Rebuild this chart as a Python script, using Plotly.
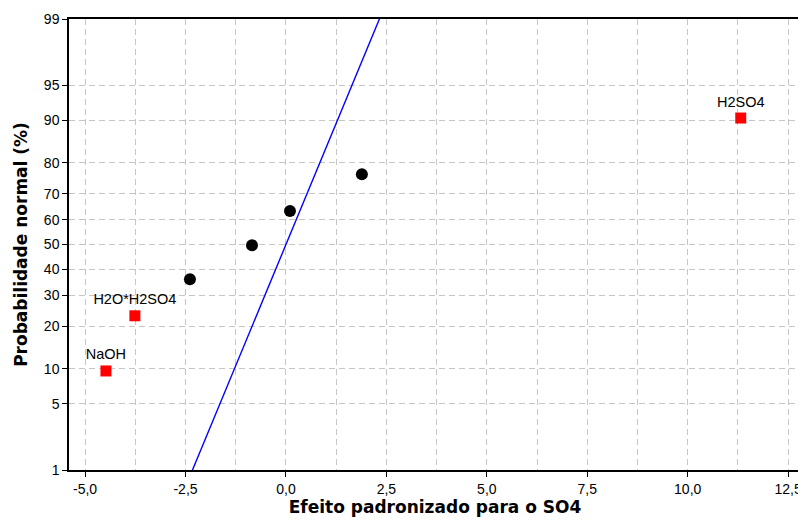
import plotly.graph_objects as go
from statistics import NormalDist

nd = NormalDist()

# --- data ---
effect_x = [-2.39, -0.845, 0.10, 1.89]          # non-significant effects
effect_p = [36.0, 49.7, 63.5, 76.6]              # normal probability (%)

sig_names = ["NaOH", "H2O*H2SO4", "H2SO4"]       # significant effects
sig_x = [-4.48, -3.76, 11.32]
sig_p = [9.6, 23.1, 90.4]

line_x = [-2.5, -2.0, -1.5, -1.0, -0.5, 0.0, 0.5, 1.0, 1.5, 2.0, 2.5]   # reference line (z = x)

y_tick_p = [1, 5, 10, 20, 30, 40, 50, 60, 70, 80, 90, 95, 99]
x_tick_vals = [-5.0, -2.5, 0.0, 2.5, 5.0, 7.5, 10.0, 12.5]
x_tick_text = ["-5,0", "-2,5", "0,0", "2,5", "5,0", "7,5", "10,0", "12,5"]
x_minor_vals = [-5.0 + 1.25 * i for i in range(15)]

z = lambda p: nd.inv_cdf(p / 100.0)

fig = go.Figure()
fig.add_trace(go.Scatter(
    x=line_x, y=line_x, mode="lines",
    line=dict(color="#0000ff", width=1.4), hoverinfo="skip", showlegend=False))
fig.add_trace(go.Scatter(
    x=effect_x, y=[z(p) for p in effect_p], mode="markers",
    marker=dict(symbol="circle", size=12, color="black"), showlegend=False))
fig.add_trace(go.Scatter(
    x=sig_x, y=[z(p) for p in sig_p], mode="markers+text",
    text=sig_names, textposition="top center",
    textfont=dict(family="Liberation Sans, Arial", size=14.5, color="black"),
    marker=dict(symbol="square", size=11, color="#ff0000"), showlegend=False))

grid = dict(gridcolor="#c6c6c6", griddash="6px,4px", gridwidth=1)
title_font = dict(family="DejaVu Sans", size=17, color="black")

fig.update_layout(
    width=798, height=514,
    margin=dict(l=61, r=5, t=11, b=52, autoexpand=False),
    paper_bgcolor="white", plot_bgcolor="white",
    font=dict(family="Liberation Sans, Arial", size=14, color="black"),
    xaxis=dict(
        range=[-5.40, 12.82], tickmode="array", automargin=False,
        tickvals=x_tick_vals, ticktext=x_tick_text,
        ticks="outside", ticklen=5, tickcolor="black",
        showline=True, linecolor="black", linewidth=1.5, mirror=True,
        showgrid=True, zeroline=False, **grid,
        minor=dict(tickvals=x_minor_vals, showgrid=True, ticklen=0, **grid),
        title=dict(text="<b>Efeito padronizado para o SO4</b>", font=title_font, standoff=6),
    ),
    yaxis=dict(
        range=[z(1), z(99)], tickmode="array", automargin=False,
        tickvals=[z(p) for p in y_tick_p], ticktext=[str(p) for p in y_tick_p],
        ticks="outside", ticklen=5, tickcolor="black",
        showline=True, linecolor="black", linewidth=1.5, mirror=True,
        showgrid=True, zeroline=False, **grid,
        title=dict(text="<b>Probabilidade normal (%)</b>", font=title_font, standoff=12),
    ),
)

fig.write_html("out.html")
